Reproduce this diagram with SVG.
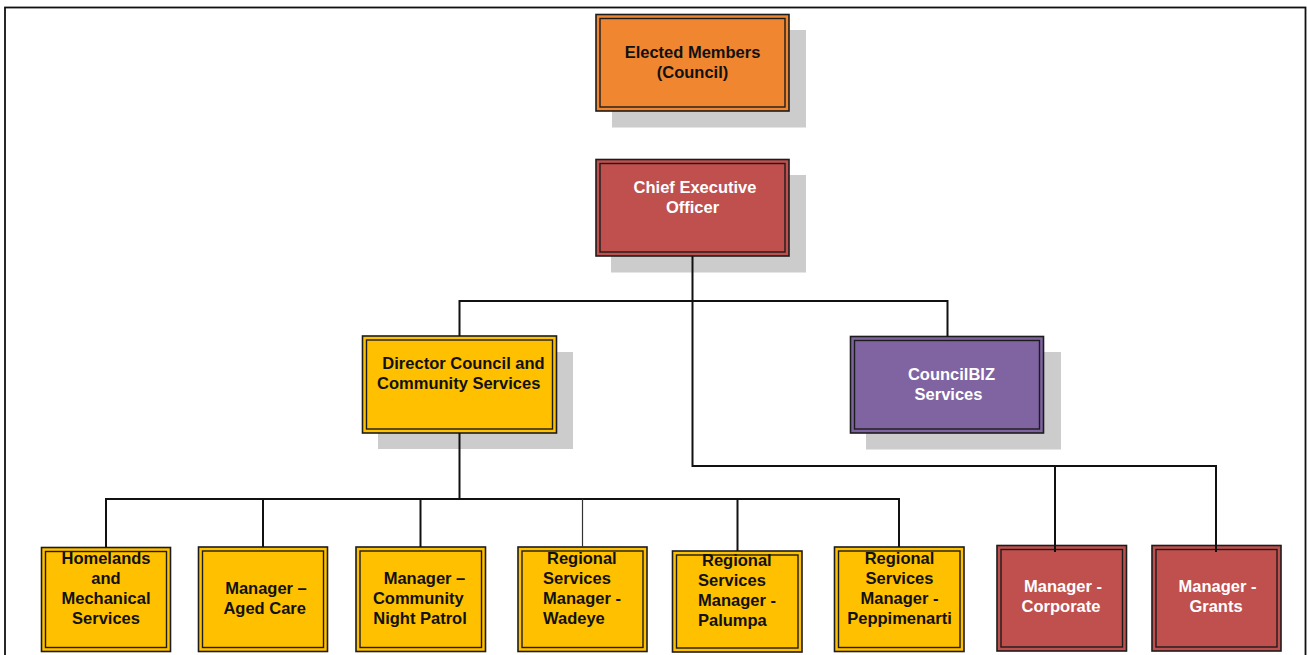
<svg xmlns="http://www.w3.org/2000/svg" width="1307" height="655" viewBox="0 0 1307 655">
<style>
.shadow{fill:#CCCCCC}
.outer{stroke:#1c1c1c;stroke-width:1.6}
.inner{fill:none;stroke:#1c1c1c;stroke-width:1.4}
.orange{fill:#F0862F}
.red{fill:#C0504D}
.purple{fill:#8064A2}
.yellow{fill:#FFC000}
text{font-family:"Liberation Sans",Arial,sans-serif;font-weight:bold;font-size:16.5px}
.dk{fill:#111111}
.wt{fill:#FFFFFF}
.c{text-anchor:middle}
.conn{fill:none;stroke:#111111;stroke-width:2}
.thin{fill:none;stroke:#333333;stroke-width:1.2}
</style>
<rect x="0" y="0" width="1307" height="655" fill="#FFFFFF"/>
<rect x="5" y="7.5" width="1300.5" height="660" fill="#FFFFFF" stroke="#111111" stroke-width="1.8"/>

<g id="elected">
<rect class="shadow" x="612" y="30" width="194" height="97.5"/>
<rect class="outer orange" x="596" y="14.5" width="193" height="96.5"/>
<rect class="inner" x="600" y="18.5" width="185" height="88.5"/>
<text class="dk c" x="692.5" y="57.5">Elected Members</text>
<text class="dk c" x="692.5" y="77.5">(Council)</text>
</g>

<g id="ceo">
<rect class="shadow" x="611" y="175" width="195" height="97.5"/>
<rect class="outer red" x="596" y="159.5" width="193" height="96.5"/>
<rect class="inner" x="600" y="163.5" width="185" height="88.5"/>
<text class="wt c" x="695" y="192.5">Chief Executive</text>
<text class="wt c" x="692.5" y="212.5">Officer</text>
</g>

<g id="director">
<rect class="shadow" x="378" y="352" width="195" height="97"/>
<rect class="outer yellow" x="362.5" y="336" width="194" height="97"/>
<rect class="inner" x="366.5" y="340" width="186" height="89"/>
<text class="dk c" x="463.5" y="369">Director Council and</text>
<text class="dk c" x="458.7" y="389">Community Services</text>
</g>

<g id="councilbiz">
<rect class="shadow" x="866" y="352" width="195" height="97.5"/>
<rect class="outer purple" x="850.5" y="336.5" width="193" height="96.5"/>
<rect class="inner" x="854.5" y="340.5" width="185" height="88.5"/>
<text class="wt c" x="951.5" y="379.5">CouncilBIZ</text>
<text class="wt c" x="948.5" y="399.5">Services</text>
</g>

<g id="homelands">
<rect class="outer yellow" x="41.5" y="547.5" width="129" height="104"/>
<rect class="inner" x="45.5" y="551.5" width="121" height="96"/>
<text class="dk c" x="106" y="563.5">Homelands</text>
<text class="dk c" x="106" y="584">and</text>
<text class="dk c" x="106" y="604">Mechanical</text>
<text class="dk c" x="106" y="624">Services</text>
</g>

<g id="agedcare">
<rect class="outer yellow" x="198.5" y="547" width="129" height="104.5"/>
<rect class="inner" x="202.5" y="551" width="121" height="96.5"/>
<text class="dk c" x="266" y="593.5">Manager –</text>
<text class="dk c" x="264.7" y="613.5">Aged Care</text>
</g>

<g id="nightpatrol">
<rect class="outer yellow" x="356" y="547" width="129.5" height="104.5"/>
<rect class="inner" x="360" y="551" width="121.5" height="96.5"/>
<text class="dk c" x="424.5" y="583.5">Manager –</text>
<text class="dk c" x="418.3" y="603.5">Community</text>
<text class="dk c" x="420" y="623.5">Night Patrol</text>
</g>

<g id="wadeye">
<rect class="outer yellow" x="518" y="547" width="129" height="104.5"/>
<rect class="inner" x="522" y="551" width="121" height="96.5"/>
<text class="dk" x="547" y="563.5">Regional</text>
<text class="dk" x="543" y="583.5">Services</text>
<text class="dk" x="543" y="603.5">Manager -</text>
<text class="dk" x="543" y="623.5">Wadeye</text>
</g>

<g id="palumpa">
<rect class="outer yellow" x="672.5" y="551" width="129.5" height="101"/>
<rect class="inner" x="676.5" y="555" width="121.5" height="93"/>
<text class="dk" x="702" y="565.5">Regional</text>
<text class="dk" x="698" y="585.5">Services</text>
<text class="dk" x="698" y="605.5">Manager -</text>
<text class="dk" x="698" y="625.5">Palumpa</text>
</g>

<g id="peppimenarti">
<rect class="outer yellow" x="834.5" y="547" width="129.5" height="104.5"/>
<rect class="inner" x="838.5" y="551" width="121.5" height="96.5"/>
<text class="dk c" x="899.5" y="563.5">Regional</text>
<text class="dk c" x="899.5" y="583.5">Services</text>
<text class="dk c" x="899.5" y="603.5">Manager -</text>
<text class="dk c" x="899.5" y="623.5">Peppimenarti</text>
</g>

<g id="corporate">
<rect class="outer red" x="997" y="545.5" width="129.5" height="105.5"/>
<rect class="inner" x="1001" y="549.5" width="121.5" height="97.5"/>
<text class="wt c" x="1063" y="592">Manager -</text>
<text class="wt c" x="1061" y="612">Corporate</text>
</g>

<g id="grants">
<rect class="outer red" x="1152" y="545.5" width="129" height="105.5"/>
<rect class="inner" x="1156" y="549.5" width="121" height="97.5"/>
<text class="wt c" x="1217.5" y="592">Manager -</text>
<text class="wt c" x="1216" y="612">Grants</text>
</g>

<g id="connectors">
<path class="conn" d="M692.5 256 V466 H1216 V552"/>
<path class="conn" d="M1055 466 V552"/>
<path class="conn" d="M459.5 336 V301 H947.5 V336.5"/>
<path class="conn" d="M459.5 433 V499"/>
<path class="conn" d="M106 547.5 V499 H899 V547"/>
<path class="conn" d="M263 547 V499"/>
<path class="conn" d="M420.5 547 V499"/>
<path class="thin" d="M582.5 547 V499"/>
<path class="conn" d="M737.5 551 V499"/>
</g>
</svg>
